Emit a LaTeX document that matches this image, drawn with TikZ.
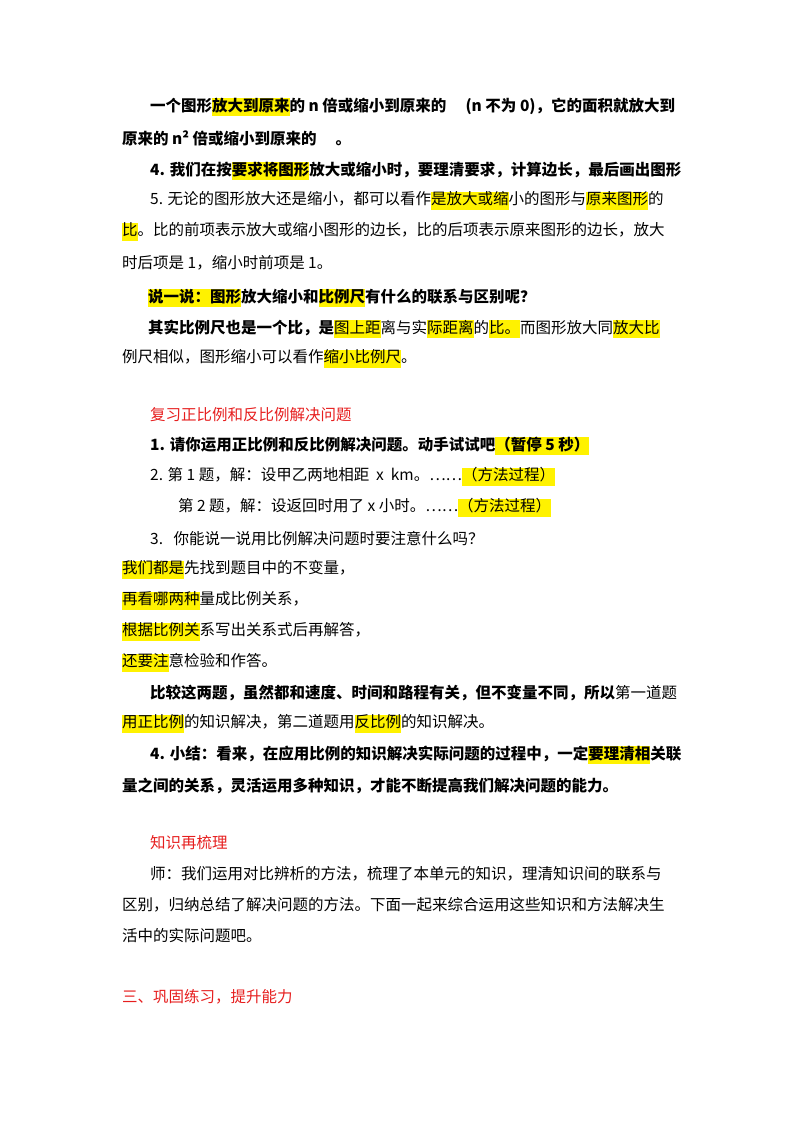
\documentclass[tikz,border=0pt]{standalone}
\usepackage{fontspec}
\setmainfont{Noto Sans CJK SC}
\usepackage{xcolor}
\newcommand\hlt[1]{{\setlength{\fboxsep}{0pt}\colorbox{yellow}{\strut #1}}}
\begin{document}
\begin{tikzpicture}[x=1pt,y=-1pt,
  ln/.style={anchor=west,inner sep=0pt,font=\fontsize{15.5}{18}\selectfont},
  bl/.style={ln,font=\fontsize{15.5}{18}\selectfont\bfseries},
  rd/.style={ln,text={rgb,255:red,230;green,30;blue,30}}]
\useasboundingbox (0,0) rectangle (800,1132);
\node[bl] (l1) at (150,107) {一个图形\hlt{放大到原来}的 n 倍或缩小到原来的 \quad (n 不为 0)，它的面积就放大到};
\node[bl] (l2) at (122,138) {原来的 n² 倍或缩小到原来的 \quad 。};
\node[bl] (l3) at (150,171) {4. 我们在按\hlt{要求将图形}放大或缩小时，要理清要求，计算边长，最后画出图形};
\node[ln] (l4) at (150,201) {5. 无论的图形放大还是缩小，都可以看作\hlt{是放大或缩}小的图形与\hlt{原来图形}的};
\node[ln] (l5) at (122,232) {\hlt{比}。比的前项表示放大或缩小图形的边长，比的后项表示原来图形的边长，放大};
\node[ln] (l6) at (122,263) {时后项是 1，缩小时前项是 1。};
\node[bl] (l7) at (148,298) {\hlt{说一说：图形}放大缩小和\hlt{比例尺}有什么的联系与区别呢？};
\node[ln] (l8) at (148,329) {\textbf{其实比例尺也是一个比，是}\hlt{图上距}离与实\hlt{际距离}的\hlt{比。}而图形放大同\hlt{放大比}};
\node[ln] (l9) at (122,359) {例尺相似，图形缩小可以看作\hlt{缩小比例尺}。};
\node[rd] (h1) at (150,415) {复习正比例和反比例解决问题};
\node[bl] (l10) at (150,446) {1. 请你运用正比例和反比例解决问题。动手试试吧\hlt{（暂停 5 秒）}};
\node[ln] (l11) at (150,477) {2. 第 1 题，解：设甲乙两地相距\ \ x\ \ km。……\hlt{（方法过程）}};
\node[ln] (l12) at (178,508) {第 2 题，解：设返回时用了 x 小时。……\hlt{（方法过程）}};
\node[ln] (l13) at (150,539) {3.\ \ \ 你能说一说用比例解决问题时要注意什么吗？};
\node[ln] (l14) at (122,570) {\hlt{我们都是}先找到题目中的不变量，};
\node[ln] (l15) at (122,601) {\hlt{再看哪两种}量成比例关系，};
\node[ln] (l16) at (122,632) {\hlt{根据比例关}系写出关系式后再解答，};
\node[ln] (l17) at (122,663) {\hlt{还要注}意检验和作答。};
\node[ln] (l18) at (150,693) {\textbf{比较这两题，虽然都和速度、时间和路程有关，但不变量不同，所以}第一道题};
\node[ln] (l19) at (122,724) {\hlt{用正比例}的知识解决，第二道题用\hlt{反比例}的知识解决。};
\node[bl] (l20) at (150,755) {4. 小结：看来，在应用比例的知识解决实际问题的过程中，一定\hlt{要理清相}关联};
\node[bl] (l21) at (122,786) {量之间的关系，灵活运用多种知识，才能不断提高我们解决问题的能力。};
\node[rd] (h2) at (150,843) {知识再梳理};
\node[ln] (l22) at (150,874) {师：我们运用对比辨析的方法，梳理了本单元的知识，理清知识间的联系与};
\node[ln] (l23) at (122,905) {区别，归纳总结了解决问题的方法。下面一起来综合运用这些知识和方法解决生};
\node[ln] (l24) at (122,936) {活中的实际问题吧。};
\node[rd] (h3) at (122,997) {三、巩固练习，提升能力};
\end{tikzpicture}
\end{document}
